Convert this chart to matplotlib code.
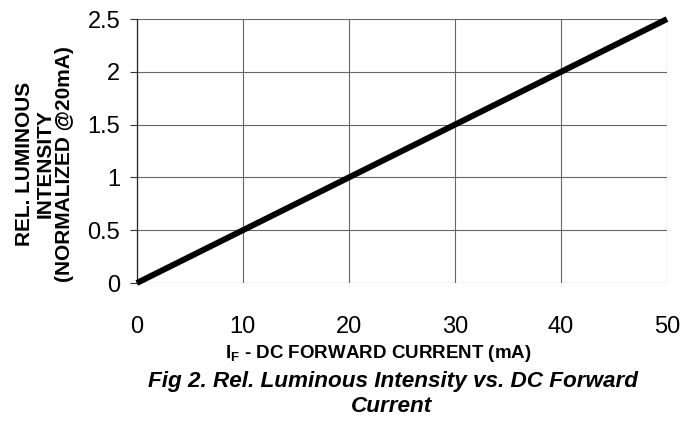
import matplotlib
matplotlib.use("Agg")
import matplotlib.pyplot as plt

current_ma = [0, 10, 20, 30, 40, 50]
rel_intensity = [0, 0.5, 1.0, 1.5, 2.0, 2.5]
x_ticks = [0, 10, 20, 30, 40, 50]
y_ticks = [0, 0.5, 1, 1.5, 2, 2.5]
y_tick_labels = ["0", "0.5", "1", "1.5", "2", "2.5"]

plt.rcParams['font.family'] = ['Liberation Sans', 'DejaVu Sans']

fig = plt.figure(figsize=(6.98, 4.24), dpi=100)
ax = fig.add_axes([0.196, 0.3325, 0.7596, 0.6225])
ax.plot(current_ma, rel_intensity, color='black', lw=4.3, solid_capstyle='butt', zorder=3, clip_on=False)
ax.set_xlim(0, 50)
ax.set_ylim(0, 2.5)
ax.set_xticks(x_ticks)
ax.set_yticks(y_ticks)
ax.set_yticklabels(y_tick_labels)
ax.grid(True, color='#666666', lw=0.8)
for s in ['top', 'right', 'bottom']:
    ax.spines[s].set_visible(False)
ax.spines['left'].set_color('#222222')
ax.spines['left'].set_linewidth(0.9)
ax.tick_params(axis='both', labelsize=17, colors='black')
ax.tick_params(axis='x', length=0, pad=24)
ax.tick_params(axis='y', length=5, width=0.8, color='#333333', pad=7)

fig.text(0.064, 0.614, "REL. LUMINOUS\nINTENSITY\n(NORMALIZED @20mA)", rotation=90,
         ha='center', va='center', fontsize=15, fontweight='bold', linespacing=1.05)
fig.text(378/698, 1 - 354/424, "I$_\\mathregular{F}$ - DC FORWARD CURRENT (mA)", ha='center', va='center',
         fontsize=13.5, fontweight='bold')
fig.text(393/698, 1 - 382/424, "Fig 2. Rel. Luminous Intensity vs. DC Forward", ha='center', va='center',
         fontsize=16.2, fontweight='bold', style='italic')
fig.text(392/698, 1 - 407/424, "Current", ha='center', va='center',
         fontsize=16.2, fontweight='bold', style='italic')

fig.savefig("out.png", dpi=100)
